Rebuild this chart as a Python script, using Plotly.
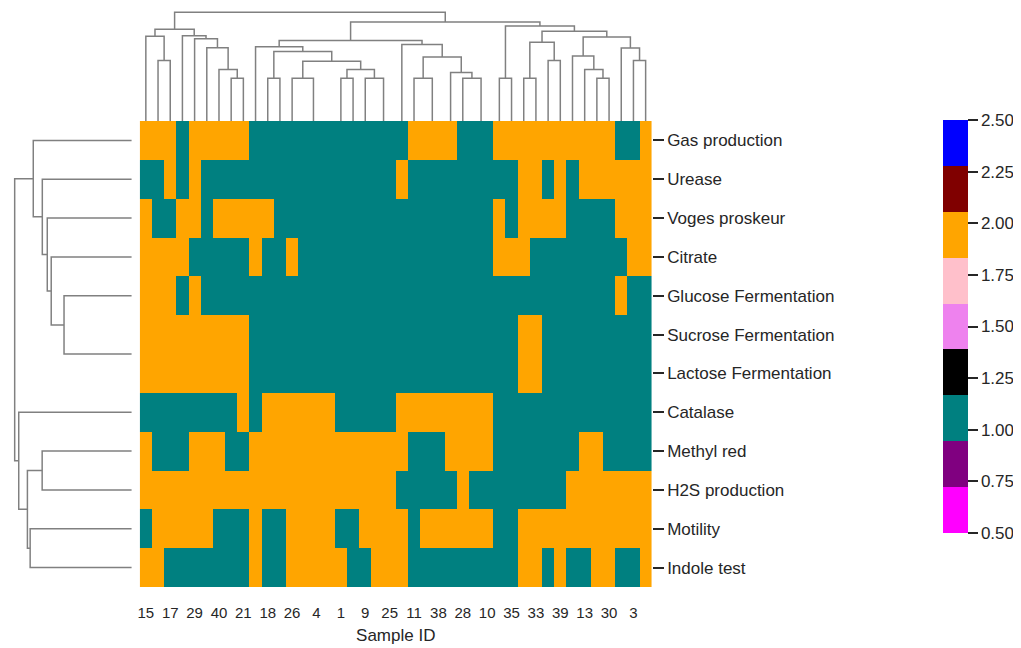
import numpy as np
import plotly.graph_objects as go

# ---------------- data (display order) ----------------
tests = ["Gas production", "Urease", "Voges proskeur", "Citrate",
         "Glucose Fermentation", "Sucrose Fermentation", "Lactose Fermentation",
         "Catalase", "Methyl red", "H2S production", "Motility", "Indole test"]

sample_ids = [15, 2, 17, 5, 29, 6, 40, 7, 21, 8, 18, 12, 26, 14, 4, 16, 1, 19, 9, 20, 25,
              22, 11, 23, 38, 24, 28, 27, 10, 31, 35, 32, 33, 34, 39, 36, 13, 37, 30, 41, 3, 42]

# 1 = teal, 2 = orange
gas_production = [2,2,2,1,2,2,2,2,2,1,1,1,1,1,1,1,1,1,1,1,1,1,2,2,2,2,1,1,1,2,2,2,2,2,2,2,2,2,2,1,1,2]
urease         = [1,1,2,1,2,1,1,1,1,1,1,1,1,1,1,1,1,1,1,1,1,2,1,1,1,1,1,1,1,1,1,2,2,1,2,1,2,2,2,2,2,2]
voges_proskeur = [2,1,1,2,2,1,2,2,2,2,2,1,1,1,1,1,1,1,1,1,1,1,1,1,1,1,1,1,1,2,1,2,2,2,2,1,1,1,1,2,2,2]
citrate        = [2,2,2,2,1,1,1,1,1,2,1,1,2,1,1,1,1,1,1,1,1,1,1,1,1,1,1,1,1,2,2,2,1,1,1,1,1,1,1,1,2,2]
glucose_ferm   = [2,2,2,1,2,1,1,1,1,1,1,1,1,1,1,1,1,1,1,1,1,1,1,1,1,1,1,1,1,1,1,1,1,1,1,1,1,1,1,2,1,1]
sucrose_ferm   = [2,2,2,2,2,2,2,2,2,1,1,1,1,1,1,1,1,1,1,1,1,1,1,1,1,1,1,1,1,1,1,2,2,1,1,1,1,1,1,1,1,1]
lactose_ferm   = [2,2,2,2,2,2,2,2,2,1,1,1,1,1,1,1,1,1,1,1,1,1,1,1,1,1,1,1,1,1,1,2,2,1,1,1,1,1,1,1,1,1]
catalase       = [1,1,1,1,1,1,1,1,2,1,2,2,2,2,2,2,1,1,1,1,1,2,2,2,2,2,2,2,2,1,1,1,1,1,1,1,1,1,1,1,1,1]
methyl_red     = [2,1,1,1,2,2,2,1,1,2,2,2,2,2,2,2,2,2,2,2,2,2,1,1,1,2,2,2,2,1,1,1,1,1,1,1,2,2,1,1,1,1]
h2s_production = [2,2,2,2,2,2,2,2,2,2,2,2,2,2,2,2,2,2,2,2,2,1,1,1,1,1,2,1,1,1,1,1,1,1,1,2,2,2,2,2,2,2]
motility       = [1,2,2,2,2,2,1,1,1,2,1,1,2,2,2,2,1,1,2,2,2,2,1,2,2,2,2,2,2,1,1,2,2,2,2,2,2,2,2,2,2,2]
indole_test    = [2,2,1,1,1,1,1,1,1,2,1,1,2,2,2,2,2,1,1,2,2,2,1,1,1,1,1,1,1,1,1,2,2,1,2,1,1,2,2,1,1,2]

values = [gas_production, urease, voges_proskeur, citrate, glucose_ferm, sucrose_ferm,
          lactose_ferm, catalase, methyl_red, h2s_production, motility, indole_test]

# cluster trees (topology; positions in display order)
col_tree = [[[0, [1, 2]], [3, [4, [5, [6, [7, 8]]]]]],
            [[[9, [[10, 11], [[12, [13, [14, 15]]], [[16, 17], [18, [19, 20]]]]]],
              [21, [[22, [23, 24]], [25, [26, [27, 28]]]]]],
             [[29, 30], [[[31, 32], [33, 34]], [[35, [36, [37, 38]]], [39, [40, 41]]]]]]]
row_tree = [[0, [1, [2, [3, [4, [5, 6]]]]]], [7, [[8, 9], [10, 11]]]]

palette = ["#ff00ff", "#800080", "#008080", "#000000", "#ee82ee",
           "#ffc0cb", "#ffa500", "#800000", "#0000ff"]
cbar_ticks = [0.5, 0.75, 1.0, 1.25, 1.5, 1.75, 2.0, 2.25, 2.5]

# ---------------- helpers ----------------
Z = np.array(values, dtype=float)


def leaves(t):
    return [t] if isinstance(t, int) else leaves(t[0]) + leaves(t[1])


def dendro(t, vecs, segs):
    """average-linkage (UPGMA) heights for a given topology"""
    if isinstance(t, int):
        return float(t), 0.0
    pa, ha = dendro(t[0], vecs, segs)
    pb, hb = dendro(t[1], vecs, segs)
    la, lb = leaves(t[0]), leaves(t[1])
    d = float(np.mean([np.linalg.norm(vecs[i] - vecs[j]) for i in la for j in lb]))
    if d > 0:
        segs.append(([pa, pa, pb, pb], [ha, d, d, hb]))
    return (pa + pb) / 2, d


def flatten(segs):
    xs, ys = [], []
    for sx, sy in segs:
        xs += sx + [None]
        ys += sy + [None]
    return xs, ys


col_segs, row_segs = [], []
_, col_top = dendro(col_tree, [Z[:, j] for j in range(Z.shape[1])], col_segs)
_, row_top = dendro(row_tree, [Z[i, :] for i in range(Z.shape[0])], row_segs)

# the page body has an 8px margin: figure is placed at (8, 8) in the window
OFF = 8
W, H = 1021 - OFF, 648 - OFF
fx = lambda p: min(1.0, max(0.0, (p - OFF) / W))
fy = lambda p: min(1.0, max(0.0, 1 - (p - OFF) / H))

hm_x = [fx(138), fx(651)]
hm_y = [fy(587), fy(121)]

n_c = len(palette)
cscale = []
for i, c in enumerate(palette):
    cscale.append([i / n_c, c])
    cscale.append([(i + 1) / n_c, c])

fig = go.Figure()

fig.add_trace(go.Heatmap(
    z=Z, x=list(range(Z.shape[1])), y=list(range(Z.shape[0])),
    zmin=0.5, zmax=2.5, colorscale=cscale, hoverongaps=False,
    colorbar=dict(
        thickness=25, thicknessmode="pixels", len=413, lenmode="pixels",
        x=fx(943), xanchor="left", y=fy(326.5), yanchor="middle",
        xpad=0, ypad=0, outlinewidth=0,
        tickvals=cbar_ticks, ticktext=[f"{v:.2f}" for v in cbar_ticks],
        ticks="outside", ticklen=10, tickwidth=1.8, tickcolor="#262626",
        tickfont=dict(size=17, color="#262626"),
    ),
    xaxis="x", yaxis="y",
))

cx, cy = flatten(col_segs)
fig.add_trace(go.Scatter(x=cx, y=cy, mode="lines", line=dict(color="#808080", width=1.5),
                         xaxis="x2", yaxis="y2", hoverinfo="skip", showlegend=False))
rx, ry = flatten(row_segs)
fig.add_trace(go.Scatter(x=ry, y=rx, mode="lines", line=dict(color="#808080", width=1.5),
                         xaxis="x3", yaxis="y3", hoverinfo="skip", showlegend=False))

hidden = dict(showgrid=False, zeroline=False, showticklabels=False, ticks="", showline=False)
font_family = "Liberation Sans, Arial, sans-serif"

fig.update_layout(
    width=W, height=H,
    margin=dict(l=0, r=0, t=0, b=0),
    paper_bgcolor="white", plot_bgcolor="white",
    font=dict(family=font_family, color="#262626"),
    showlegend=False,
    xaxis=dict(domain=hm_x, range=[-0.5, Z.shape[1] - 0.5],
               tickvals=list(range(0, Z.shape[1], 2)),
               ticktext=[str(sample_ids[i]) for i in range(0, Z.shape[1], 2)],
               ticks="outside", ticklen=12, tickcolor="rgba(0,0,0,0)",
               tickfont=dict(size=15, color="#262626"),
               showgrid=False, zeroline=False, showline=False,
               title=dict(text="Sample ID", font=dict(size=17, color="#262626"), standoff=9)),
    yaxis=dict(domain=hm_y, range=[Z.shape[0] - 0.5, -0.5], side="right",
               tickvals=list(range(Z.shape[0])), ticktext=tests,
               ticks="outside", ticklen=11, tickwidth=1.8, tickcolor="#262626",
               tickfont=dict(size=17, color="#262626"),
               showgrid=False, zeroline=False, showline=False),
    xaxis2=dict(domain=hm_x, range=[-0.5, Z.shape[1] - 0.5], anchor="y2", **hidden),
    yaxis2=dict(domain=[fy(121), fy(9)], range=[0, col_top * 1.03], anchor="x2", **hidden),
    xaxis3=dict(domain=[fx(8), fx(130)], range=[row_top * 1.04, 0], anchor="y3", **hidden),
    yaxis3=dict(domain=hm_y, range=[Z.shape[0] - 0.5, -0.5], anchor="x3", **hidden),
)

fig.write_html("out.html")
